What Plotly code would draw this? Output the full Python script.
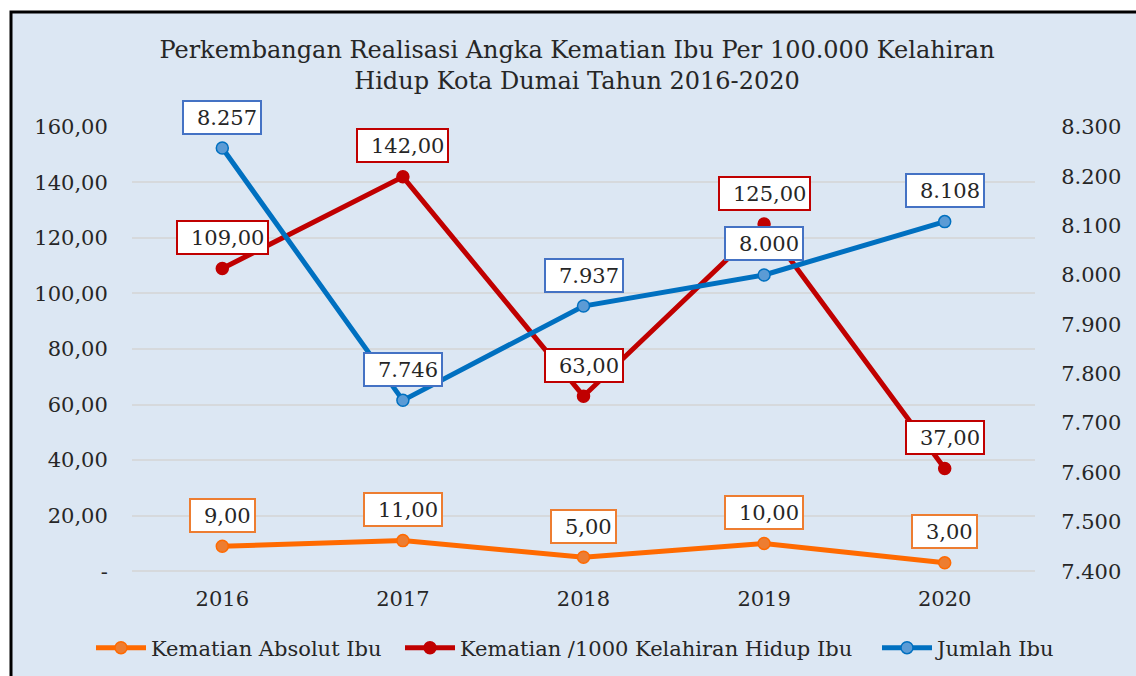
import plotly.graph_objects as go

years = ["2016", "2017", "2018", "2019", "2020"]
kematian_absolut = [9, 11, 5, 10, 3]
kematian_per_1000 = [109, 142, 63, 125, 37]
jumlah_ibu = [8257, 7746, 7937, 8000, 8108]

left_ticks = [0, 20, 40, 60, 80, 100, 120, 140, 160]
left_ticktext = ["-", "20,00", "40,00", "60,00", "80,00", "100,00", "120,00", "140,00", "160,00"]
right_ticks = [7400, 7500, 7600, 7700, 7800, 7900, 8000, 8100, 8200, 8300]
right_ticktext = ["7.400", "7.500", "7.600", "7.700", "7.800", "7.900", "8.000", "8.100", "8.200", "8.300"]

names = ["Kematian Absolut Ibu", "Kematian /1000 Kelahiran Hidup Ibu", "Jumlah Ibu"]
title_text = "Perkembangan Realisasi Angka Kematian Ibu Per 100.000 Kelahiran<br>Hidup Kota Dumai Tahun 2016-2020"

FONT = "DejaVu Serif"
FS = 21
TXT = "#262626"
BG = "#DCE7F3"

# plot area in pixels
PL, PR, PT, PB = 132, 1035, 126, 572
PW, PH = PR - PL, PB - PT


def px_x(p):
    return (p - PL) / PW


def px_y(p):
    return (PB - p) / PH


fig = go.Figure()
fig.add_trace(go.Scatter(
    x=years, y=kematian_absolut, name=names[0], mode="lines+markers", legend="legend",
    line=dict(color="#FF6A00", width=5),
    marker=dict(color="#ED7D31", size=12, line=dict(color="#FF6A00", width=1.5)),
))
fig.add_trace(go.Scatter(
    x=years, y=kematian_per_1000, name=names[1], mode="lines+markers", legend="legend2",
    line=dict(color="#C00000", width=5),
    marker=dict(color="#C00000", size=12, line=dict(color="#C00000", width=1.5)),
))
fig.add_trace(go.Scatter(
    x=years, y=jumlah_ibu, name=names[2], mode="lines+markers", yaxis="y2", legend="legend3",
    line=dict(color="#0070C0", width=5),
    marker=dict(color="#5B9BD5", size=12, line=dict(color="#0070C0", width=1.5)),
))


def fmt_dec(v):
    return f"{v:.2f}".replace(".", ",")


def fmt_thou(v):
    return f"{v:,}".replace(",", ".")


def text_w(s):
    w = 0.0
    for ch in s:
        w += 0.318 if ch in ".," else 0.636
    return w * FS


def label(i, v, txt, yref, color):
    return dict(x=i, y=v, xref="x", yref=yref, text=txt, showarrow=False,
                yshift=31, bgcolor="white", bordercolor=color, borderwidth=2, borderpad=3,
                width=text_w(txt) + 10, height=25, align="right",
                font=dict(family=FONT, size=FS, color=TXT))


annotations = []
for i, v in enumerate(kematian_absolut):
    annotations.append(label(i, v, fmt_dec(v), "y", "#ED7D31"))
for i, v in enumerate(kematian_per_1000):
    annotations.append(label(i, v, fmt_dec(v), "y", "#C00000"))
for i, v in enumerate(jumlah_ibu):
    annotations.append(label(i, v, fmt_thou(v), "y2", "#4472C4"))

ext = 0.3
legend_common = dict(orientation="h", xanchor="left", yanchor="middle",
                     yref="container", y=1 - 648 / 676,
                     bgcolor="rgba(0,0,0,0)", font=dict(family=FONT, size=FS, color=TXT),
                     itemwidth=50)

fig.update_layout(
    width=1136, height=676,
    margin=dict(l=PL, r=1136 - PR, t=PT, b=676 - PB, autoexpand=False),
    paper_bgcolor="white",
    plot_bgcolor="rgba(0,0,0,0)",
    font=dict(family=FONT, size=FS, color=TXT),
    title=dict(text=title_text, x=577 / 1136, xref="container", xanchor="center",
               y=1 - 58 / 676, yref="container", yanchor="middle",
               font=dict(family=FONT, size=24, color=TXT)),
    xaxis=dict(type="category", range=[-0.5, 4.5], showgrid=False, zeroline=False, showline=False,
               ticks="outside", ticklen=8, tickcolor="rgba(0,0,0,0)",
               tickfont=dict(family=FONT, size=FS, color=TXT)),
    yaxis=dict(range=[-ext, 160 + ext], tickvals=left_ticks, ticktext=left_ticktext,
               showgrid=True, gridcolor="#D6D9DC", gridwidth=2,
               zeroline=True, zerolinecolor="#D6D9DC", zerolinewidth=2, showline=False,
               ticks="outside", ticklen=19, tickcolor="rgba(0,0,0,0)",
               tickfont=dict(family=FONT, size=FS, color=TXT)),
    yaxis2=dict(range=[7400 - ext * 900 / 160, 8300 + ext * 900 / 160],
                tickvals=right_ticks, ticktext=right_ticktext,
                overlaying="y", side="right", showgrid=False, zeroline=False, showline=False,
                ticks="outside", ticklen=21, tickcolor="rgba(0,0,0,0)",
                tickfont=dict(family=FONT, size=FS, color=TXT)),
    legend=dict(legend_common, x=px_x(91)),
    legend2=dict(legend_common, x=px_x(400)),
    legend3=dict(legend_common, x=px_x(877)),
    showlegend=True,
    annotations=annotations,
    shapes=[dict(type="rect", xref="paper", yref="paper", layer="below",
                 x0=px_x(11), x1=px_x(1145),
                 y0=px_y(690), y1=px_y(12),
                 fillcolor=BG, line=dict(color="black", width=3))],
)

fig.write_html("out.html", post_script="document.body.style.margin='0px';",
               config={"displayModeBar": False})
